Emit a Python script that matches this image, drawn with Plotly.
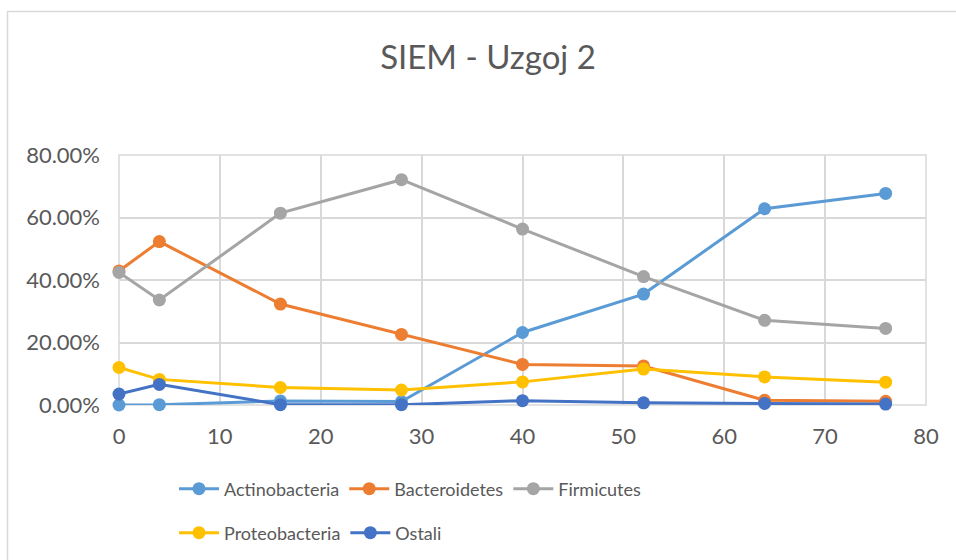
import plotly.graph_objects as go

days = [0, 4, 16, 28, 40, 52, 64, 76]
actinobacteria = [0.000, 0.001, 0.013, 0.011, 0.232, 0.355, 0.628, 0.677]
bacteroidetes = [0.429, 0.523, 0.323, 0.226, 0.130, 0.125, 0.015, 0.012]
firmicutes = [0.424, 0.336, 0.614, 0.721, 0.563, 0.411, 0.271, 0.245]
proteobacteria = [0.120, 0.082, 0.056, 0.048, 0.074, 0.115, 0.090, 0.073]
ostali = [0.035, 0.066, 0.001, 0.001, 0.014, 0.007, 0.005, 0.003]

series = [
    ("Actinobacteria", actinobacteria, "#5B9BD5", "legend"),
    ("Bacteroidetes", bacteroidetes, "#ED7D31", "legend"),
    ("Firmicutes", firmicutes, "#A5A5A5", "legend"),
    ("Proteobacteria", proteobacteria, "#FFC000", "legend2"),
    ("Ostali", ostali, "#4472C4", "legend2"),
]

FONT = "Lato"
TXT = "#595959"

fig = go.Figure()
for name, vals, col, lg in series:
    fig.add_trace(go.Scatter(
        x=days, y=vals, name=name, mode="lines+markers",
        line=dict(color=col, width=3),
        marker=dict(color=col, size=13),
        legend=lg, cliponaxis=False,
    ))

# plot area in px: left 119, right 926, top 155, bottom 405
L, R, T, B = 119, 926, 155, 405
W, H = 956, 560
pw, ph = R - L, B - T

def px(x):
    return (x - L) / pw

def py(y):
    return (B - y) / ph

fig.update_layout(
    width=W, height=H,
    margin=dict(l=L, r=W - R, t=T, b=H - B, autoexpand=False),
    paper_bgcolor="white", plot_bgcolor="white",
    font=dict(family=FONT, color=TXT, size=19),
    title=dict(text="SIEM - Uzgoj 2", x=488 / W, xanchor="center",
               y=1 - 57 / H, yanchor="middle", yref="container",
               font=dict(family=FONT, size=33, color=TXT)),
    xaxis=dict(range=[0, 80], dtick=10, tick0=0, showgrid=True,
               gridcolor="#D9D9D9", gridwidth=1.5, zeroline=False,
               showline=False, ticks="", ticklen=0, ticklabelstandoff=16,
               tickfont=dict(family=FONT, size=22, color=TXT)),
    yaxis=dict(range=[0, 0.8], dtick=0.2, tickformat=".2%", showgrid=True,
               gridcolor="#D9D9D9", gridwidth=1.5, zeroline=False,
               showline=False, ticks="", ticklen=0, ticklabelstandoff=18,
               tickfont=dict(family=FONT, size=22, color=TXT)),
    legend=dict(orientation="h", x=px(174), xanchor="left",
                y=py(489), yanchor="middle",
                font=dict(family=FONT, size=18, color=TXT),
                bgcolor="rgba(0,0,0,0)", itemwidth=40),
    legend2=dict(orientation="h", x=px(174), xanchor="left",
                 y=py(533), yanchor="middle",
                 font=dict(family=FONT, size=18, color=TXT),
                 bgcolor="rgba(0,0,0,0)", itemwidth=40),
    shapes=[
        dict(type="rect", xref="paper", yref="paper",
             x0=px(7.5), x1=px(1200), y0=py(900), y1=py(11.5),
             line=dict(color="#D9D9D9", width=1.5), fillcolor="rgba(0,0,0,0)",
             layer="below"),
        dict(type="rect", xref="paper", yref="paper",
             x0=0, x1=1, y0=0, y1=1,
             line=dict(color="#D9D9D9", width=1.5), fillcolor="rgba(0,0,0,0)",
             layer="below"),
    ],
)

fig.write_html("out.html", config={"displayModeBar": False},
               post_script="document.body.style.margin='0';")
